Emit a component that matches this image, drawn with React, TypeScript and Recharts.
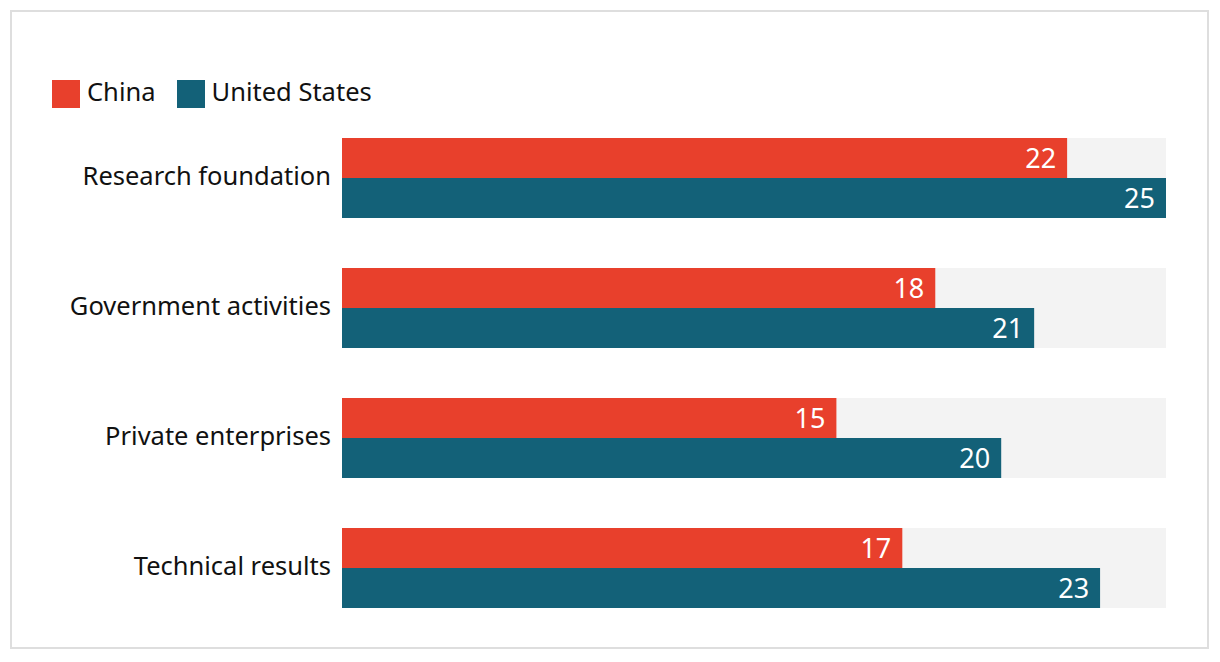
import { BarChart, Bar, XAxis, YAxis, Legend, LabelList } from 'recharts'

const categories = [
	'Research foundation',
	'Government activities',
	'Private enterprises',
	'Technical results',
]
const chinaValues = [22, 18, 15, 17]
const usValues = [25, 21, 20, 23]

const CHINA = '#e8402c'
const US = '#136178'
const FONT = '"Noto Sans", sans-serif'

const data = categories.map((name, i) => ({
	name,
	china: chinaValues[i],
	us: usValues[i],
}))

function LegendContent() {
	const items = [
		{ label: 'China', color: CHINA },
		{ label: 'United States', color: US },
	]
	return (
		<div style={{ display: 'flex', height: 33, alignItems: 'flex-start' }}>
			{items.map((it) => (
				<div
					key={it.label}
					style={{ display: 'flex', alignItems: 'center', marginRight: 21 }}
				>
					<span
						style={{ width: 28, height: 28, background: it.color, display: 'inline-block' }}
					/>
					<span
						style={{
							fontFamily: FONT,
							fontSize: 25.5,
							color: '#111',
							marginLeft: 7,
							lineHeight: '28px',
							position: 'relative',
							top: -3,
						}}
					>
						{it.label}
					</span>
				</div>
			))}
		</div>
	)
}

export default function App() {
	return (
		<div
			style={{
				position: 'absolute',
				left: 10,
				top: 10,
				width: 1195,
				height: 635,
				border: '2px solid #dedede',
				background: '#fff',
			}}
		>
			<BarChart
				width={1195}
				height={635}
				data={data}
				layout='vertical'
				margin={{ top: 68, right: 41, bottom: 14, left: 0 }}
				barGap={0}
				barCategoryGap={25}
			>
				<XAxis type='number' domain={[0, 25]} hide />
				<YAxis
					type='category'
					dataKey='name'
					width={330}
					axisLine={false}
					tickLine={false}
					tickSize={0}
					tickMargin={11}
					tick={{ fill: '#111', fontSize: 25.5, fontFamily: FONT, dy: -2 }}
				/>
				<Legend
					verticalAlign='top'
					align='left'
					content={<LegendContent />}
					wrapperStyle={{ left: 40, top: 68 }}
				/>
				<Bar
					dataKey='china'
					name='China'
					fill={CHINA}
					barSize={40}
					background={{ fill: '#f3f3f3' }}
					isAnimationActive={false}
				>
					<LabelList
						dataKey='china'
						position='insideRight'
						offset={11}
						fill='#fff'
						fontSize={27}
						fontFamily={FONT}
					/>
				</Bar>
				<Bar
					dataKey='us'
					name='United States'
					fill={US}
					barSize={40}
					background={{ fill: '#f3f3f3' }}
					isAnimationActive={false}
				>
					<LabelList
						dataKey='us'
						position='insideRight'
						offset={11}
						fill='#fff'
						fontSize={27}
						fontFamily={FONT}
					/>
				</Bar>
			</BarChart>
		</div>
	)
}
